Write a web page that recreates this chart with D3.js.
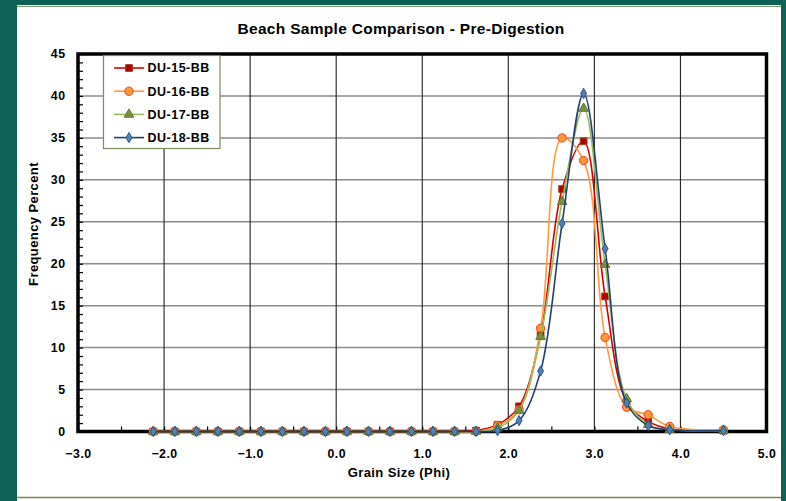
<!DOCTYPE html>
<html><head><meta charset="utf-8">
<script src="https://cdn.jsdelivr.net/npm/d3@7"></script>
<style>html,body{margin:0;padding:0;background:#0d6157;}svg{display:block;}</style>
</head><body>
<svg id="c" width="786" height="501"></svg>
<script>
const phi = [-2.125,-1.875,-1.625,-1.375,-1.125,-0.875,-0.625,-0.375,-0.125,0.125,0.375,0.625,0.875,1.125,1.375,1.625,1.875,2.125,2.375,2.625,2.875,3.125,3.375,3.625,3.875,4.5];
const du15 = [0,0,0,0,0,0,0,0,0,0,0,0,0,0,0,0.1,0.8,3.0,11.5,28.9,34.6,16.1,3.5,1.2,0.3,0.1];
const du16 = [0,0,0,0,0,0,0,0,0,0,0,0,0,0,0,0,0.7,2.6,12.3,35.0,32.3,11.2,2.9,2.0,0.6,0.2];
const du17 = [0,0,0,0,0,0,0,0,0,0,0,0,0,0,0,0,0.4,2.5,11.3,27.4,38.5,19.9,3.9,0.8,0.2,0.1];
const du18 = [0,0,0,0,0,0,0,0,0,0,0,0,0,0,0,0,0.1,1.3,7.2,24.8,40.3,21.8,3.4,0.7,0.2,0.1];
const seriesNames = ["DU-15-BB","DU-16-BB","DU-17-BB","DU-18-BB"];
const xTicks = [-3,-2,-1,0,1,2,3,4,5];
const yTicks = [0,5,10,15,20,25,30,35,40,45];
const titleText = "Beach Sample Comparison - Pre-Digestion";
const xLabel = "Grain Size (Phi)";
const yLabel = "Frequency Percent";

const styles = [
  {line:"#d40000", fill:"#b00000", stroke:"#a04020", sym:d3.symbolSquare, size:46},
  {line:"#ff9a3c", fill:"#ff9933", stroke:"#ff3b1f", sym:d3.symbolCircle, size:55},
  {line:"#9bbb59", fill:"#76923c", stroke:"#5f7a2c", sym:d3.symbolTriangle, size:40},
  {line:"#1f3f6e", fill:"#4f81bd", stroke:"#2a5288", sym:d3.symbolDiamond, size:30}
];
const allSeries = [du15,du16,du17,du18];

const svg = d3.select("#c");
const font = "'Liberation Sans', Arial, sans-serif";

// background panel
svg.append("rect").attr("x",0).attr("y",0).attr("width",786).attr("height",501).attr("fill","#0d6157");
svg.append("rect").attr("x",17).attr("y",5).attr("width",764).attr("height",496).attr("fill","#ffffff");
svg.append("line").attr("x1",17).attr("x2",781).attr("y1",6.5).attr("y2",6.5).attr("stroke","#7f9a6a").attr("stroke-width",1.2);
svg.append("line").attr("x1",17).attr("x2",781).attr("y1",497.5).attr("y2",497.5).attr("stroke","#6f8a4a").attr("stroke-width",1.5);

const x = d3.scaleLinear().domain([-3,5]).range([78,766.5]);
const y = d3.scaleLinear().domain([0,45]).range([431.5,54]);

// gridlines
svg.append("g").selectAll("line").data(yTicks.slice(1,-1)).join("line")
  .attr("x1",x(-3)).attr("x2",x(5)).attr("y1",d=>y(d)).attr("y2",d=>y(d))
  .attr("stroke","#8a8a8a").attr("stroke-width",1.5);
svg.append("g").selectAll("line").data(xTicks.slice(1,-1)).join("line")
  .attr("y1",y(0)).attr("y2",y(45)).attr("x1",d=>x(d)).attr("x2",d=>x(d))
  .attr("stroke","#222").attr("stroke-width",1.1);

// minor ticks
const yMinor = svg.append("g").attr("transform",`translate(${x(-3)},0)`)
  .call(d3.axisRight(y).tickValues(d3.range(0,46,1)).tickSize(5).tickFormat(""));
yMinor.select(".domain").remove();
yMinor.selectAll("line").attr("stroke","#000").attr("stroke-width",1.2);
const xMinor = svg.append("g").attr("transform",`translate(0,${y(0)})`)
  .call(d3.axisTop(x).tickValues(d3.range(-3,5.01,0.5)).tickSize(5).tickFormat(""));
xMinor.select(".domain").remove();
xMinor.selectAll("line").attr("stroke","#000").attr("stroke-width",1.2);

// frame
svg.append("rect").attr("x",x(-3)).attr("y",y(45)).attr("width",x(5)-x(-3)).attr("height",y(0)-y(45))
  .attr("fill","none").attr("stroke","#000").attr("stroke-width",3.5);

// tick labels
const yAx = svg.append("g").attr("transform",`translate(${x(-3)},0)`)
  .call(d3.axisLeft(y).tickValues(yTicks).tickSize(0).tickPadding(12.5).tickFormat(d3.format("d")));
yAx.select(".domain").remove();
yAx.selectAll("text").attr("font-family",font).attr("font-weight","bold").attr("font-size",12.3).attr("letter-spacing",0.5).attr("fill","#000");
const xAx = svg.append("g").attr("transform",`translate(0,${y(0)})`)
  .call(d3.axisBottom(x).tickValues(xTicks).tickSize(0).tickPadding(17.5).tickFormat(d3.format(".1f")));
xAx.select(".domain").remove();
xAx.selectAll("text").attr("font-family",font).attr("font-weight","bold").attr("font-size",12.3).attr("letter-spacing",0.5).attr("fill","#000");

// series
const line = d3.line().x((d,i)=>x(phi[i])).y(d=>y(d)).curve(d3.curveCatmullRom.alpha(0.5));
allSeries.forEach((s,k)=>{
  const st = styles[k];
  svg.append("path").datum(s).attr("d",line).attr("fill","none").attr("stroke",st.line).attr("stroke-width",1.6);
  svg.append("g").selectAll("path").data(s).join("path")
    .attr("transform",(d,i)=>`translate(${x(phi[i])},${y(d)})`)
    .attr("d",d3.symbol().type(st.sym).size(st.size))
    .attr("fill",st.fill).attr("stroke",st.stroke).attr("stroke-width",1);
});

// title and axis labels
svg.append("text").attr("x",401).attr("y",34).attr("text-anchor","middle")
  .attr("font-family",font).attr("font-weight","bold").attr("font-size",15.5).attr("letter-spacing",0.3).text(titleText);
svg.append("text").attr("x",399).attr("y",477).attr("text-anchor","middle")
  .attr("font-family",font).attr("font-weight","bold").attr("font-size",13).attr("letter-spacing",0.4).text(xLabel);
svg.append("text").attr("transform","translate(37.5,224) rotate(-90)").attr("text-anchor","middle")
  .attr("font-family",font).attr("font-weight","bold").attr("font-size",13).attr("letter-spacing",0.4).text(yLabel);

// legend
const lg = svg.append("g");
lg.append("rect").attr("x",103.5).attr("y",55.5).attr("width",116.5).attr("height",93)
  .attr("fill","#fff").attr("stroke","#7a8a5a").attr("stroke-width",1.2);
seriesNames.forEach((n,k)=>{
  const st = styles[k];
  const yy = 68 + k*23.2;
  lg.append("line").attr("x1",114).attr("x2",144).attr("y1",yy).attr("y2",yy).attr("stroke",st.line).attr("stroke-width",1.6);
  lg.append("path").attr("transform",`translate(129,${yy})`).attr("d",d3.symbol().type(st.sym).size(st.size))
    .attr("fill",st.fill).attr("stroke",st.stroke).attr("stroke-width",1);
  lg.append("text").attr("x",147.5).attr("y",yy+4.3).attr("font-family",font).attr("font-weight","bold")
    .attr("font-size",12.5).attr("letter-spacing",0.5).text(n);
});
</script>
</body></html>
